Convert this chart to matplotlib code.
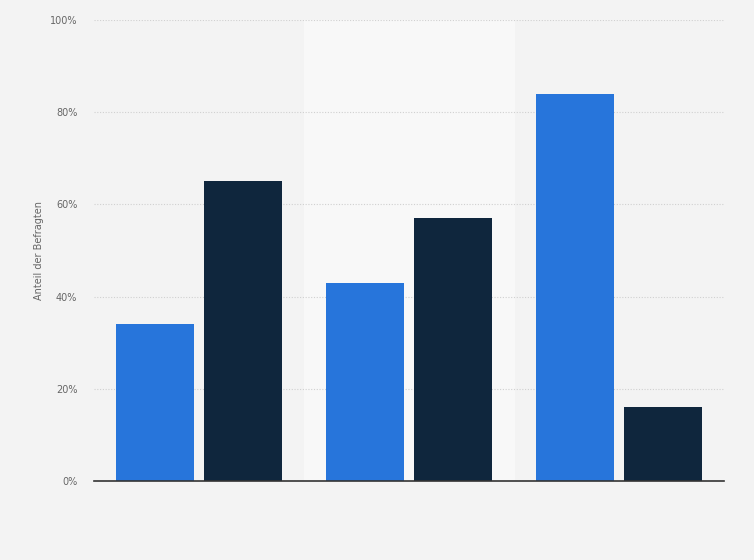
import numpy as np
import matplotlib.pyplot as plt
from matplotlib.ticker import FuncFormatter

groups = ['Gruppe 1', 'Gruppe 2', 'Gruppe 3']
series_a = [34, 43, 84]
series_b = [65, 57, 16]
y_ticks = [0, 20, 40, 60, 80, 100]

fig = plt.figure(figsize=(7.54, 5.6), dpi=100, facecolor='#f3f3f3')
ax = fig.add_axes([94 / 754, 1 - 481 / 560, 630 / 754, 461 / 560])
ax.set_facecolor('#f3f3f3')

x = np.arange(len(groups))
width = 0.371
offset = 0.21

# heller Streifen hinter der mittleren Gruppe
ax.axvspan(0.5, 1.5, color='#f8f8f8', zorder=0)

ax.bar(x - offset, series_a, width, color='#2775db', zorder=3)
ax.bar(x + offset, series_b, width, color='#0f263d', zorder=3)

ax.set_xlim(-0.5, 2.5)
ax.set_ylim(0, 100)
ax.set_yticks(y_ticks)
ax.yaxis.set_major_formatter(FuncFormatter(lambda v, p: f'{int(v)}%'))
ax.set_xticks([])

ax.grid(axis='y', color='#d0d0d0', linestyle=(0, (1, 1.5)), linewidth=0.8, zorder=1)
for s in ['top', 'right', 'left']:
    ax.spines[s].set_visible(False)
ax.spines['bottom'].set_color('#333333')
ax.spines['bottom'].set_linewidth(1.2)
ax.spines['bottom'].set_zorder(4)

ax.tick_params(axis='y', length=0, pad=12, labelsize=7, labelcolor='#666666')
ax.set_ylabel('Anteil der Befragten', fontsize=7, color='#666666', labelpad=4)

fig.savefig('out.png', dpi=100, facecolor=fig.get_facecolor())
